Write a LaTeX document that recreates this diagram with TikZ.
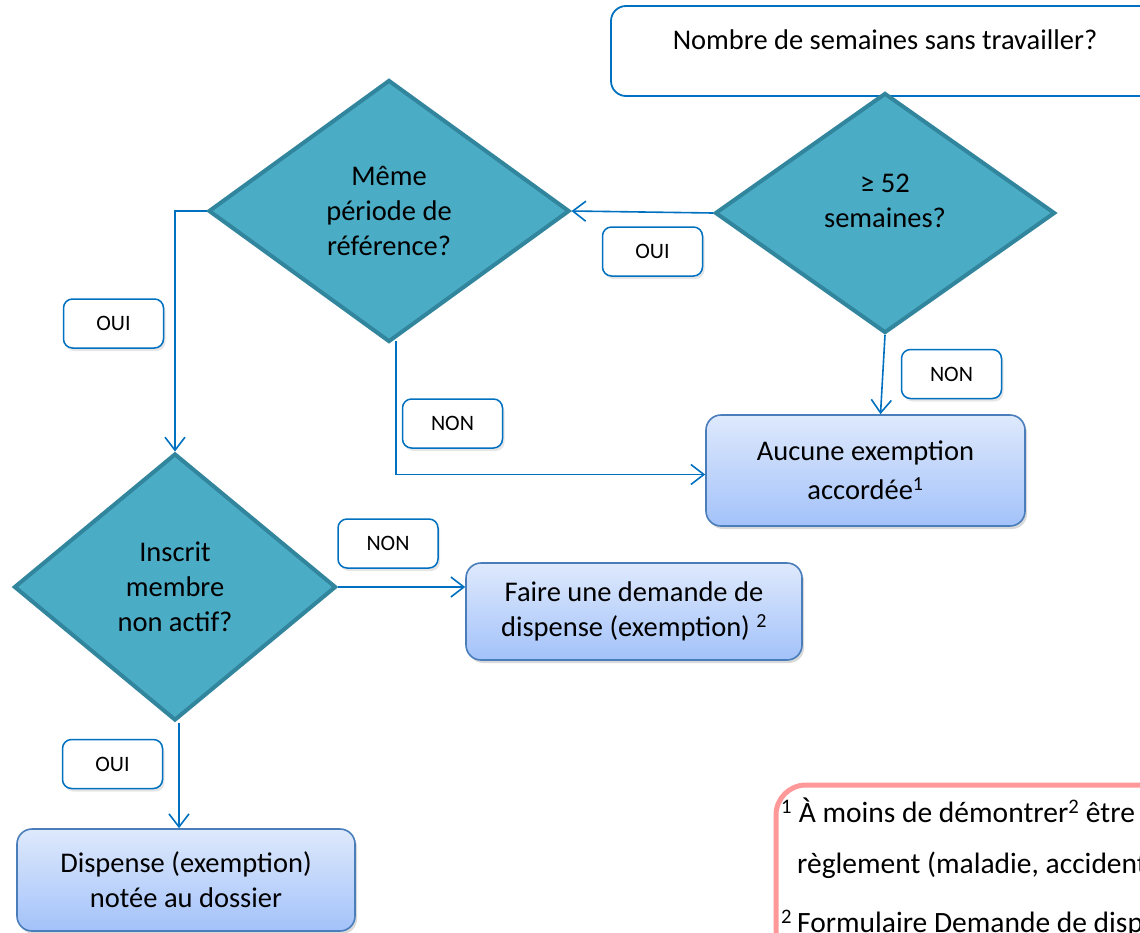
\documentclass[tikz,border=0pt]{standalone}
\usepackage{fontspec}
\setmainfont{Carlito}
\usetikzlibrary{shapes.geometric,arrows.meta,shadows,calc}
\definecolor{dfill}{RGB}{75,172,198}
\definecolor{dline}{RGB}{49,133,156}
\definecolor{cblue}{RGB}{0,112,192}
\definecolor{bline}{RGB}{74,126,187}
\definecolor{gtop}{RGB}{222,233,252}
\definecolor{gbot}{RGB}{163,194,250}
\definecolor{pinkline}{RGB}{255,153,153}
\begin{document}
\begin{tikzpicture}[x=1pt,y=-1pt,
  decision/.style={diamond, draw=dline, fill=dfill, line width=4pt, inner sep=0pt, align=center, font=\fontsize{28.5}{35}\selectfont},
  result/.style={draw=bline, line width=1.6pt, rounded corners=15pt, top color=gtop, bottom color=gbot, align=center, font=\fontsize{28.5}{35}\selectfont, drop shadow={opacity=0.3, shadow xshift=2pt, shadow yshift=-3pt}},
  tag/.style={draw=cblue, line width=1.5pt, fill=white, rounded corners=9pt, minimum width=100pt, minimum height=49pt, font=\fontsize{22}{26}\selectfont, drop shadow={opacity=0.2, shadow xshift=2pt, shadow yshift=-3pt}},
  link/.style={draw=cblue, line width=1.6pt, -{Straight Barb[length=13pt,width=20pt]}}
]
\useasboundingbox (0,0) rectangle (1140,932);
\clip (0,0) rectangle (1140,932);

% top question box
\node[draw=cblue, line width=1.8pt, rounded corners=15pt, minimum width=549pt, minimum height=90pt] (top) at (885.5,51) {};
\node[font=\fontsize{28.5}{35}\selectfont] (toptext) at (885,40) {Nombre de semaines sans travailler?};

% decisions
\node[decision, minimum width=361pt, minimum height=262pt] (d1) at (389,211) {Même\\période de\\référence?};
\node[decision, minimum width=340pt, minimum height=240pt] (d2) at (885,213) {\raisebox{4pt}[0pt][0pt]{\begin{tabular}{@{}c@{}}≥ 52\\semaines?\end{tabular}}};
\node[decision, minimum width=322pt, minimum height=267pt] (d3) at (175,587) {Inscrit\\membre\\non actif?};

% results
\node[result, minimum width=319pt, minimum height=111pt] (aucune) at (865.5,470.5) {Aucune exemption\\[4pt]accordée\textsuperscript{1}};
\node[result, minimum width=336pt, minimum height=97pt] (faire) at (634,611.5) {Faire une demande de\\dispense (exemption) \textsuperscript{2}};
\node[result, minimum width=338pt, minimum height=102pt] (dispense) at (186,880) {Dispense (exemption)\\notée au dossier};

% connectors
\draw[link] (d2.west) -- (d1.east);
\draw[link] (d1.west) -| (d3.north);
\draw[link] ($(d1.south)+(7,-3)$) |- ($(aucune.west)+(0,4)$);
\draw[link] (d2.south) -- ($(aucune.north)+(15,0)$);
\draw[link] (d3.east) -- (d3.east -| faire.west);
\draw[link] ($(d3.south)+(4,0)$) -- ($(d3.south |- dispense.north)+(4,0)$);

% tags
\node[tag] (oui1) at (652.5,251.5) {OUI};
\node[tag] (oui2) at (113.5,323.5) {OUI};
\node[tag] (non1) at (452.5,423.5) {NON};
\node[tag] (non2) at (951.5,374) {NON};
\node[tag] (non3) at (388,543.5) {NON};
\node[tag] (oui3) at (112.5,764) {OUI};

% footnote box
\node[draw=pinkline, line width=5pt, rounded corners=30pt, outer sep=0pt, minimum width=440pt, minimum height=240pt, anchor=north west] (notes) at (776,785) {};
\node[anchor=north west, align=left, inner sep=0pt, font=\fontsize{29.5}{51}\selectfont] (notetext) at (781,798)
  {\textsuperscript{1} À moins de démontrer\textsuperscript{2} être\\
   \hspace*{16pt}règlement (maladie, accident\\[8pt]
   \textsuperscript{2}\,Formulaire Demande de dispense};
\end{tikzpicture}
\end{document}
